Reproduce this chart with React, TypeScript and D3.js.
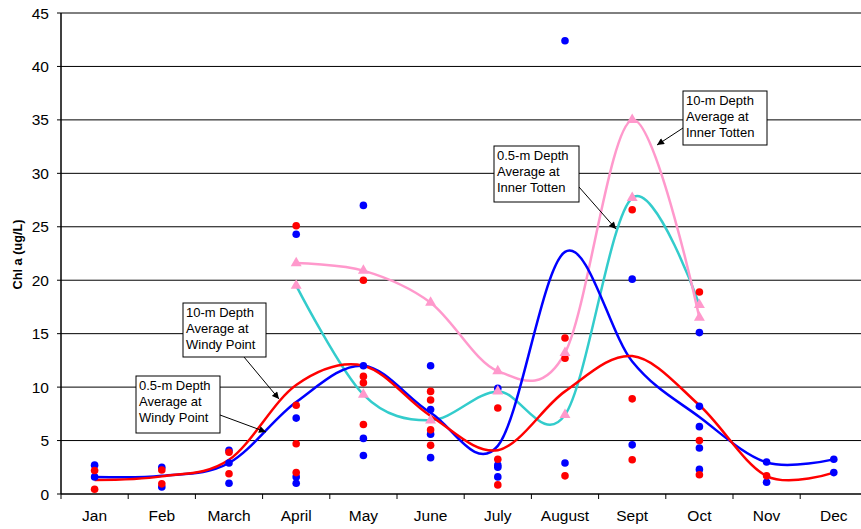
import React from 'react';
import * as d3 from 'd3';

// Chlorophyll a by month
const MONTHS = ['Jan', 'Feb', 'March', 'April', 'May', 'June', 'July', 'August', 'Sept', 'Oct', 'Nov', 'Dec'];
const TOTTEN_MONTHS = ['April', 'May', 'June', 'July', 'August', 'Sept', 'Oct'];
const Y_TICKS = [0, 5, 10, 15, 20, 25, 30, 35, 40, 45];

// individual samples, one list per month
const blueSamples: number[][] = [
  [2.7, 1.6],
  [2.5, 0.65],
  [4.1, 2.9, 1.0],
  [24.3, 7.1, 1.6, 1.0],
  [27.0, 12.0, 5.2, 3.6],
  [12.0, 7.9, 5.6, 3.4],
  [9.9, 2.7, 2.5, 1.6],
  [42.4, 2.9],
  [20.1, 4.6],
  [15.1, 8.2, 6.3, 4.3, 2.3],
  [3.0, 1.1],
  [3.25, 2.0],
];
const redSamples: number[][] = [
  [2.2, 0.45],
  [2.25, 0.95],
  [3.9, 1.9],
  [25.1, 8.3, 4.7, 2.0],
  [20.0, 11.0, 10.4, 6.5],
  [9.6, 8.8, 6.0, 4.55],
  [8.05, 3.25, 0.85],
  [14.6, 12.7, 1.7],
  [26.6, 8.9, 3.2],
  [18.9, 5.0, 1.8],
  [1.7],
  [],
];

// smoothed averages
const windy05: number[] = [1.6, 1.7, 2.9, 8.6, 12.0, 7.6, 4.5, 22.65, 12.4, 7.2, 2.96, 3.24];
const windy10: number[] = [1.3, 1.65, 3.2, 10.2, 12.0, 7.3, 4.1, 9.6, 12.9, 8.3, 1.68, 2.0];
const totten10: number[] = [21.6, 20.9, 17.9, 11.5, 13.2, 35.0, 16.5];
const totten05: number[] = [19.5, 9.3, 6.9, 9.6, 7.4, 27.7, 17.7];

const callouts = [
  { lines: ['10-m Depth', 'Average at', 'Windy Point'], box: [183, 303, 83, 54], from: [244, 357], to: [279, 399] },
  { lines: ['0.5-m Depth', 'Average at', 'Windy Point'], box: [136, 376, 84, 57], from: [220, 415], to: [266, 432] },
  { lines: ['0.5-m Depth', 'Average at', 'Inner Totten'], box: [494, 146, 85, 56], from: [579, 187], to: [616, 229] },
  { lines: ['10-m Depth', 'Average at', 'Inner Totten'], box: [683, 91, 84, 54], from: [683, 128], to: [657, 145] },
];

const W = 861;
const H = 529;
const margin = { top: 13, left: 61, bottom: 494, right: 867.4 };
const FONT = 'Arial, "Liberation Sans", sans-serif';

export default function App() {
  const x = d3.scaleBand<string>().domain(MONTHS).range([margin.left, margin.right]);
  const cx = (m: string) => (x(m) ?? 0) + x.bandwidth() / 2;
  const y = d3.scaleLinear().domain([0, 45]).range([margin.bottom, margin.top]);

  const line = d3
    .line<[string, number]>()
    .x((d) => cx(d[0]))
    .y((d) => y(d[1]))
    .curve(d3.curveCardinal.tension(0));

  const tri = d3.symbol().type(d3.symbolTriangle).size(52)() as string;

  const ticksX = d3.range(MONTHS.length + 1).map((i) => margin.left + i * x.bandwidth());

  return (
    <svg width={W} height={H} style={{ position: 'absolute', left: 0, top: 0, background: '#fff' }} fontFamily={FONT}>
      <defs>
        <marker id="arrow" viewBox="0 0 10 10" refX="10" refY="5" markerWidth="8" markerHeight="7" orient="auto" markerUnits="userSpaceOnUse">
          <path d="M0,0 L10,5 L0,10 z" fill="#000" />
        </marker>
      </defs>

      {/* gridlines */}
      <g>
        {Y_TICKS.filter((t) => t > 0).map((t) => (
          <line key={t} x1={margin.left} x2={W} y1={y(t)} y2={y(t)} stroke="#000" strokeWidth={1} />
        ))}
      </g>

      {/* axes */}
      <line x1={margin.left} x2={margin.left} y1={margin.top} y2={margin.bottom} stroke="#000" strokeWidth={1.5} />
      <line x1={margin.left} x2={W} y1={margin.bottom} y2={margin.bottom} stroke="#000" strokeWidth={1.5} />
      {Y_TICKS.map((t) => (
        <g key={t}>
          <line x1={margin.left - 4} x2={margin.left} y1={y(t)} y2={y(t)} stroke="#000" />
          <text x={49} y={y(t)} dy="0.36em" textAnchor="end" fontSize={15.5}>
            {t}
          </text>
        </g>
      ))}
      {ticksX.map((tx, i) => (
        <line key={i} x1={tx} x2={tx} y1={margin.bottom} y2={margin.bottom + 5} stroke="#000" />
      ))}
      {MONTHS.map((m) => (
        <text key={m} x={cx(m)} y={520.5} textAnchor="middle" fontSize={15.5}>
          {m}
        </text>
      ))}
      <text transform="translate(22,254.5) rotate(-90)" textAnchor="middle" fontSize={12.7} fontWeight="bold">
        Chl a (ug/L)
      </text>

      {/* smoothed lines */}
      <g fill="none" strokeWidth={2.5}>
        <path d={line(TOTTEN_MONTHS.map((m, i) => [m, totten05[i]]) as [string, number][]) ?? ''} stroke="#33CCCC" />
        <path d={line(TOTTEN_MONTHS.map((m, i) => [m, totten10[i]]) as [string, number][]) ?? ''} stroke="#FF99CC" />
        <path d={line(MONTHS.map((m, i) => [m, windy05[i]]) as [string, number][]) ?? ''} stroke="#0000FF" />
        <path d={line(MONTHS.map((m, i) => [m, windy10[i]]) as [string, number][]) ?? ''} stroke="#FF0000" />
      </g>

      {/* sample points */}
      <g>
        {MONTHS.map((m, i) =>
          blueSamples[i].map((v, j) => <circle key={`b${i}-${j}`} cx={cx(m)} cy={y(v)} r={3.8} fill="#0000FF" />)
        )}
        {MONTHS.map((m, i) =>
          redSamples[i].map((v, j) => <circle key={`r${i}-${j}`} cx={cx(m)} cy={y(v)} r={3.8} fill="#FF0000" />)
        )}
      </g>

      {/* average markers */}
      <g fill="#FF99CC">
        {TOTTEN_MONTHS.map((m, i) => (
          <path key={`t10${i}`} d={tri} transform={`translate(${cx(m)},${y(totten10[i])})`} />
        ))}
        {TOTTEN_MONTHS.map((m, i) => (
          <path key={`t05${i}`} d={tri} transform={`translate(${cx(m)},${y(totten05[i])})`} />
        ))}
      </g>

      {/* callouts */}
      {callouts.map((c, i) => (
        <g key={i}>
          <line x1={c.from[0]} y1={c.from[1]} x2={c.to[0]} y2={c.to[1]} stroke="#000" strokeWidth={1} markerEnd="url(#arrow)" />
          <rect x={c.box[0]} y={c.box[1]} width={c.box[2]} height={c.box[3]} fill="#fff" stroke="#000" strokeWidth={1} />
          {c.lines.map((t, k) => (
            <text key={k} x={c.box[0] + 3} y={c.box[1] + 13.5 + k * 16} fontSize={13}>
              {t}
            </text>
          ))}
        </g>
      ))}
    </svg>
  );
}
